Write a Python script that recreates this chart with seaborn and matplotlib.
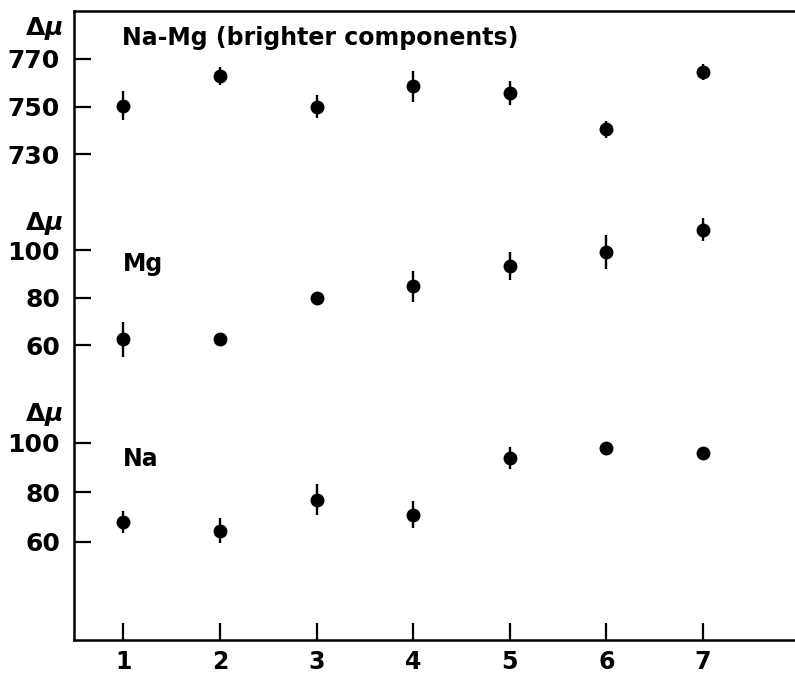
import matplotlib
matplotlib.use("Agg")
import matplotlib.pyplot as plt
import seaborn as sns
import pandas as pd

# ---- data ----
x = [1, 2, 3, 4, 5, 6, 7]
xtick_labels = ["1", "2", "3", "4", "5", "6", "7"]

namg = [750.4, 762.8, 750.0, 758.6, 755.8, 740.4, 764.5]
namg_err = [6.0, 3.8, 4.7, 6.5, 5.0, 3.7, 3.5]

mg = [62.5, 62.5, 80.0, 84.8, 93.2, 99.3, 108.5]
mg_err = [7.3, 0.0, 0.0, 6.5, 6.0, 7.2, 4.8]

na = [67.9, 64.5, 76.9, 70.9, 93.7, 98.0, 96.0]
na_err = [4.5, 5.0, 6.3, 5.5, 4.4, 0.0, 0.0]

yticks_namg = [730, 750, 770]
yticks_mg = [60, 80, 100]
yticks_na = [60, 80, 100]

label_namg = "Na-Mg (brighter components)"
label_mg = "Mg"
label_na = "Na"
dmu = r"$\Delta\mu$"

# ---- style ----
sns.set_style("white")
plt.rcParams["font.family"] = ["DejaVu Sans"]
plt.rcParams["font.weight"] = "bold"
plt.rcParams["text.color"] = "black"
plt.rcParams["mathtext.fontset"] = "custom"
plt.rcParams["mathtext.rm"] = "DejaVu Sans:bold"
plt.rcParams["mathtext.it"] = "DejaVu Sans:italic:bold"
plt.rcParams["mathtext.bf"] = "DejaVu Sans:bold"

W, H = 795, 676
fig = plt.figure(figsize=(W / 100, H / 100), dpi=100)
LEFT = 74
XLIM = (0.489, 7.953)


def rect(top_px, bot_px):
    return [LEFT / W, 1 - bot_px / H, 1 - LEFT / W, (bot_px - top_px) / H]


def ylim_for(top_px, bot_px, ref_val, ref_px, ppu):
    return (ref_val - (bot_px - ref_px) / ppu, ref_val + (ref_px - top_px) / ppu)


# frame axes: carries the continuous left spine, top line and the x axis
frame = fig.add_axes(rect(10.7, 640))
frame.set_xlim(*XLIM)
frame.set_yticks([])
frame.spines["right"].set_visible(False)
for s in ["left", "top", "bottom"]:
    frame.spines[s].set_color("black")
    frame.spines[s].set_linewidth(1.8)
frame.set_xticks(x)
frame.set_xticklabels(xtick_labels, fontweight="bold")
frame.tick_params(axis="x", bottom=True, labelbottom=True, direction="in",
                  length=12, width=1.6, labelsize=17, pad=7, colors="black")

# (axes top px, axes bottom px, reference tick value, its px, px per unit)
layout = [
    (10.7, 195, 770, 59.0, 2.375),
    (195, 395, 100, 250.0, 2.3825),
    (395, 640, 100, 442.7, 2.475),
]

panels = [
    (namg, namg_err, yticks_namg, label_namg, 778.8, 28),
    (mg, mg_err, yticks_mg, label_mg, 94.1, 223),
    (na, na_err, yticks_na, label_na, 93.4, 415),
]

for (vals, err, yt, lab, lab_y, dmu_px), lay in zip(panels, layout):
    ax = fig.add_axes(rect(lay[0], lay[1]))
    df = pd.DataFrame({"x": x, "y": vals, "err": err})
    ax.vlines(df["x"], df["y"] - df["err"], df["y"] + df["err"],
              color="black", lw=1.7, zorder=2)
    sns.scatterplot(data=df, x="x", y="y", ax=ax, s=100, color="black",
                    edgecolor="black", linewidth=0, zorder=3, legend=False)
    ax.set_xlim(*XLIM)
    ax.set_ylim(*ylim_for(*lay))
    ax.set_yticks(yt)
    ax.set_yticklabels([str(t) for t in yt], fontweight="bold")
    ax.set_xlabel("")
    ax.set_ylabel("")
    for s in ["left", "right", "top", "bottom"]:
        ax.spines[s].set_visible(False)
    ax.tick_params(axis="y", direction="in", length=12, width=1.6,
                   labelsize=18, pad=10, colors="black", left=True)
    ax.tick_params(axis="x", bottom=False, labelbottom=False)
    ax.text(0.99, lab_y, lab, fontsize=17, fontweight="bold",
            ha="left", va="center", color="black")
    ax.patch.set_alpha(0)
    fig.text(63 / W, 1 - dmu_px / H, dmu, fontsize=18, ha="right",
             va="center", color="black")

fig.savefig("out.png", dpi=100, facecolor="white")
